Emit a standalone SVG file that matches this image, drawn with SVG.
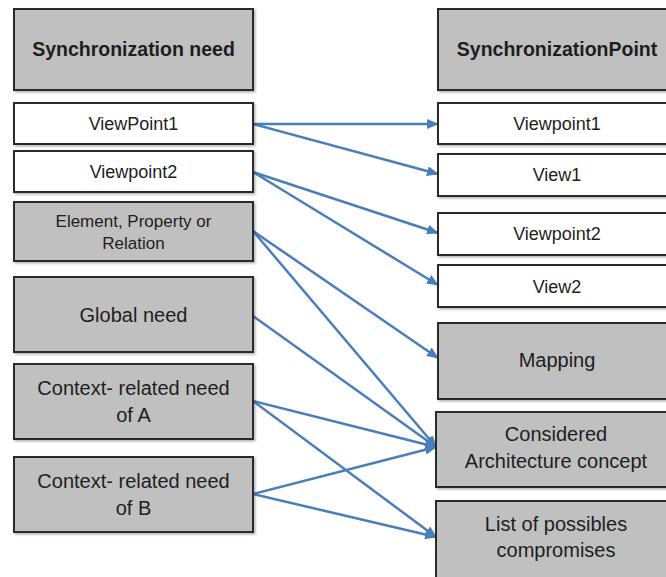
<svg xmlns="http://www.w3.org/2000/svg" width="666" height="577" viewBox="0 0 666 577">
<style>
.g{fill:#c0c0c0;stroke:#2b2b2b;stroke-width:2;filter:url(#sh)}
.w{fill:#ffffff;stroke:#2b2b2b;stroke-width:2;filter:url(#sh)}
text{font-family:"Liberation Sans",Arial,sans-serif;fill:#1e1e1e;text-anchor:middle}
.h{font-weight:bold;font-size:19.5px}
.s{font-size:18px}
.m{font-size:20px}
.e{font-size:17px}
.c{fill:none;stroke:#4a7ebb;stroke-width:2.5;marker-end:url(#ah)}
</style>
<defs>
<filter id="sh" x="-5%" y="-5%" width="115%" height="120%">
<feDropShadow dx="1.5" dy="1.5" stdDeviation="1" flood-color="#000" flood-opacity="0.3"/>
</filter>
<marker id="ah" markerUnits="userSpaceOnUse" markerWidth="12" markerHeight="10" refX="11" refY="5" orient="auto">
<path d="M0,0 L12,5 L0,10 z" fill="#4a7ebb"/>
</marker>
</defs>
<rect width="666" height="577" fill="#ffffff"/>
<g id="connectors">
<line class="c" x1="253" y1="124" x2="438" y2="124"/>
<line class="c" x1="253" y1="124" x2="438" y2="174"/>
<line class="c" x1="253" y1="172" x2="438" y2="233"/>
<line class="c" x1="253" y1="172" x2="438" y2="285"/>
<line class="c" x1="253" y1="231" x2="438" y2="358"/>
<line class="c" x1="253" y1="231" x2="436" y2="447"/>
<line class="c" x1="253" y1="316" x2="436" y2="447"/>
<line class="c" x1="253" y1="401" x2="436" y2="447"/>
<line class="c" x1="253" y1="401" x2="436" y2="537"/>
<line class="c" x1="253" y1="494" x2="436" y2="447"/>
<line class="c" x1="253" y1="494" x2="436" y2="537"/>
</g>
<g id="sync-need"><rect class="g" x="14" y="9" width="239" height="81"/><text class="h" x="133.5" y="56">Synchronization need</text></g>
<g id="viewpoint1-l"><rect class="w" x="14" y="103" width="239" height="41"/><text class="s" x="133.5" y="130">ViewPoint1</text></g>
<g id="viewpoint2-l"><rect class="w" x="14" y="151" width="239" height="41"/><text class="s" x="133.5" y="178">Viewpoint2</text></g>
<g id="element"><rect class="g" x="14" y="202" width="239" height="59"/><text class="e" x="133.5" y="227">Element, Property or</text><text class="e" x="133.5" y="249">Relation</text></g>
<g id="global"><rect class="g" x="14" y="277" width="239" height="75"/><text class="m" x="133.5" y="322">Global need</text></g>
<g id="context-a"><rect class="g" x="14" y="364" width="239" height="75"/><text class="m" x="133.5" y="395">Context- related need</text><text class="m" x="133.5" y="422">of A</text></g>
<g id="context-b"><rect class="g" x="14" y="457" width="239" height="75"/><text class="m" x="133.5" y="488">Context- related need</text><text class="m" x="133.5" y="515">of B</text></g>
<g id="sync-point"><rect class="g" x="438" y="9" width="240" height="81"/><text class="h" x="557" y="56">SynchronizationPoint</text></g>
<g id="viewpoint1-r"><rect class="w" x="438" y="103" width="240" height="41"/><text class="s" x="557" y="130">Viewpoint1</text></g>
<g id="view1"><rect class="w" x="438" y="154" width="240" height="42"/><text class="s" x="557" y="181">View1</text></g>
<g id="viewpoint2-r"><rect class="w" x="438" y="213" width="240" height="42"/><text class="s" x="557" y="240">Viewpoint2</text></g>
<g id="view2"><rect class="w" x="438" y="265" width="240" height="42"/><text class="s" x="557" y="293">View2</text></g>
<g id="mapping"><rect class="g" x="438" y="323" width="240" height="76"/><text class="m" x="557" y="367">Mapping</text></g>
<g id="considered"><rect class="g" x="436" y="412" width="242" height="75"/><text class="m" x="556" y="441">Considered</text><text class="m" x="556" y="468">Architecture concept</text></g>
<g id="compromises"><rect class="g" x="436" y="501" width="242" height="85"/><text class="m" x="556" y="531">List of possibles</text><text class="m" x="556" y="557">compromises</text></g>
</svg>
